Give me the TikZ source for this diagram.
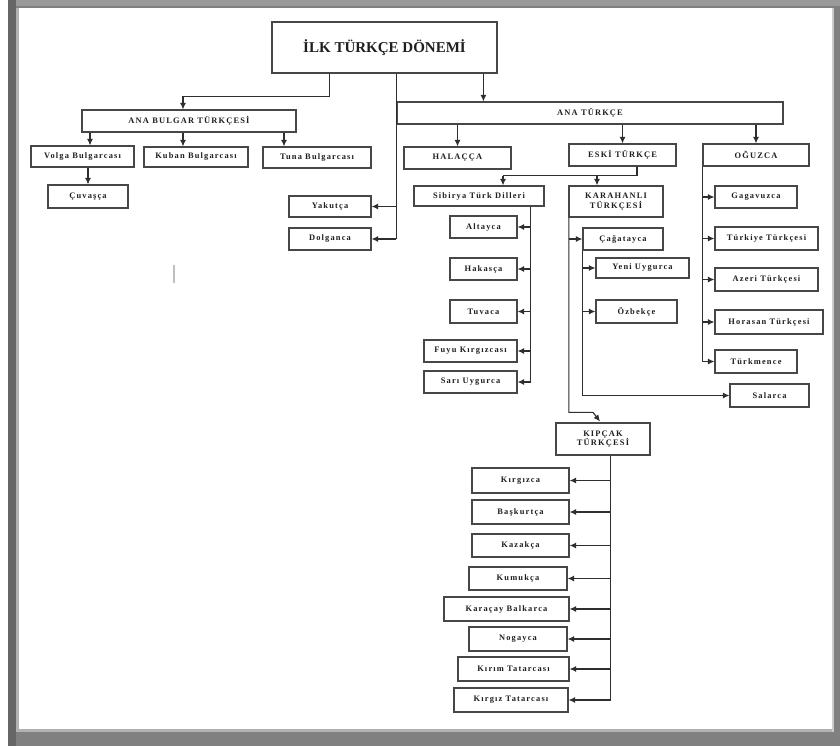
\documentclass[tikz,border=0pt]{standalone}
\usepackage{fontspec}
\setmainfont{Liberation Serif}
\newfontfamily\lblfont{Liberation Serif}[LetterSpace=14]
\usetikzlibrary{arrows.meta}
\begin{document}
\begin{tikzpicture}[x=1pt,y=-1pt,
  bx/.style={draw=black!72,line width=1.2pt,fill=white,inner sep=1pt,align=center,
    text=black!88,font=\lblfont\fontsize{8.4}{9.2}\selectfont\bfseries},
  ln/.style={draw=black!82,line width=1.1pt},
  arr/.style={ln,-{Latex[length=6.5pt,width=6pt]}}]
\useasboundingbox (0,0) rectangle (840,746);
% frame
\fill[black!50] (8,0) rectangle (840,746);
\fill[black!60] (8,0) rectangle (16,746);
\fill[black!30] (16,8) rectangle (19,732);
\fill[black!30] (16,729) rectangle (834,732);
\fill[black!40] (16,0) rectangle (840,6);
\fill[white] (19,8) rectangle (832,729);
\fill[black!20] (832,8) rectangle (834,732);
% stray mark
\draw[black!25,line width=1.5pt] (174,265) -- (174,283);
% nodes
\node[bx,minimum width=225pt,minimum height=51pt,font=\fontsize{15}{17}\selectfont\bfseries] (title) at (384.5,47.5) {İLK TÜRKÇE DÖNEMİ};
\node[bx,minimum width=214pt,minimum height=22pt] (anab) at (189,121) {ANA BULGAR TÜRKÇESİ};
\node[bx,minimum width=103pt,minimum height=21pt] (volga) at (82.5,156.5) {Volga Bulgarcası};
\node[bx,minimum width=104pt,minimum height=20pt] (kuban) at (196,157) {Kuban Bulgarcası};
\node[bx,minimum width=108pt,minimum height=21pt] (tuna) at (317,157.5) {Tuna Bulgarcası};
\node[bx,minimum width=80pt,minimum height=23pt] (cuvas) at (88,196.5) {Çuvaşça};
\node[bx,minimum width=386pt,minimum height=22pt] (anat) at (590,113) {ANA TÜRKÇE};
\node[bx,minimum width=82pt,minimum height=21pt] (yakut) at (330,206.5) {Yakutça};
\node[bx,minimum width=82pt,minimum height=22pt] (dolgan) at (330,239) {Dolganca};
\node[bx,minimum width=107pt,minimum height=22pt] (halac) at (457.5,158) {HALAÇÇA};
\node[bx,minimum width=107pt,minimum height=22pt] (eski) at (622.5,155) {ESKİ TÜRKÇE};
\node[bx,minimum width=106pt,minimum height=22pt] (oguz) at (756,155) {OĞUZCA};
\node[bx,minimum width=130pt,minimum height=20pt] (sibir) at (479,196) {Sibirya Türk Dilleri};
\node[bx,minimum width=94pt,minimum height=31pt] (karah) at (616,201.5) {KARAHANLI\\TÜRKÇESİ};
\node[bx,minimum width=67pt,minimum height=22pt] (altay) at (483.5,227) {Altayca};
\node[bx,minimum width=67pt,minimum height=22pt] (hakas) at (483.5,269) {Hakasça};
\node[bx,minimum width=67pt,minimum height=23pt] (tuva) at (483.5,311.5) {Tuvaca};
\node[bx,minimum width=93pt,minimum height=22pt] (fuyu) at (470.5,351) {Fuyu Kırgızcası};
\node[bx,minimum width=93pt,minimum height=22pt] (sari) at (470.5,382) {Sarı Uygurca};
\node[bx,minimum width=82pt,minimum height=22pt] (gagav) at (756,197) {Gagavuzca};
\node[bx,minimum width=103pt,minimum height=23pt] (turkiye) at (766.5,238.5) {Türkiye Türkçesi};
\node[bx,minimum width=103pt,minimum height=23pt] (azeri) at (766.5,279.5) {Azeri Türkçesi};
\node[bx,minimum width=108pt,minimum height=24pt] (horasan) at (769,322) {Horasan Türkçesi};
\node[bx,minimum width=82pt,minimum height=23pt] (turkmen) at (756,361.5) {Türkmence};
\node[bx,minimum width=80pt,minimum height=22pt] (cagatay) at (623,239) {Çağatayca};
\node[bx,minimum width=93pt,minimum height=20pt] (yeniuyg) at (642.5,268) {Yeni Uygurca};
\node[bx,minimum width=81pt,minimum height=23pt] (ozbek) at (636.5,311.5) {Özbekçe};
\node[bx,minimum width=79pt,minimum height=23pt] (salar) at (769.5,395.5) {Salarca};
\node[bx,minimum width=94pt,minimum height=32pt] (kipcak) at (603,439) {KIPÇAK\\TÜRKÇESİ};
\node[bx,minimum width=97pt,minimum height=25pt] (kirgiz) at (520.5,480.5) {Kırgızca};
\node[bx,minimum width=97pt,minimum height=24pt] (baskurt) at (520.5,512) {Başkurtça};
\node[bx,minimum width=97pt,minimum height=23pt] (kazak) at (520.5,545.5) {Kazakça};
\node[bx,minimum width=98pt,minimum height=23pt] (kumuk) at (518,578.5) {Kumukça};
\node[bx,minimum width=125pt,minimum height=24pt] (karacay) at (506.5,609) {Karaçay Balkarca};
\node[bx,minimum width=98pt,minimum height=24pt] (nogay) at (518,639) {Nogayca};
\node[bx,minimum width=111pt,minimum height=24pt] (kirim) at (513.5,669) {Kırım Tatarcası};
\node[bx,minimum width=114pt,minimum height=24pt] (kirgtat) at (511,700) {Kırgız Tatarcası};
% title -> ANA BULGAR
\draw[arr] ([xshift=58pt]title.south west) -- ++(0,23) -| ([xshift=-6pt]anab.north);
% ANA BULGAR -> children
\draw[arr] ([xshift=7.5pt]volga.north |- anab.south) -- ([xshift=7.5pt]volga.north);
\draw[arr] ([xshift=-13pt]kuban.north |- anab.south) -- ([xshift=-13pt]kuban.north);
\draw[arr] ([xshift=-33pt]tuna.north |- anab.south) -- ([xshift=-33pt]tuna.north);
\draw[arr] (cuvas.north |- volga.south) -- (cuvas.north);
% title -> ANA TÜRKÇE, Yakutça, Dolganca
\coordinate (ts) at ([xshift=125pt]title.south west);
\draw[ln] (ts) -- (ts |- dolgan.east);
\draw[arr] (ts |- yakut.east) -- (yakut.east);
\draw[arr] (ts |- dolgan.east) -- (dolgan.east);
\coordinate (t2) at ([xshift=212pt]title.south west);
\draw[arr] (t2) -- (t2 |- anat.north);
% ANA TÜRKÇE -> children
\draw[arr] (halac.north |- anat.south) -- (halac.north);
\draw[arr] (eski.north |- anat.south) -- (eski.north);
\draw[arr] (oguz.north |- anat.south) -- (oguz.north);
% ESKİ TÜRKÇE -> children
\draw[ln] ([xshift=14.5pt]eski.south) -- ++(0,9) coordinate (ej) -- ++(-134,0) coordinate (ek);
\draw[arr] (ek) -- (ek |- sibir.north);
\draw[arr] ([xshift=-19pt]karah.north |- ej) -- ([xshift=-19pt]karah.north);
% Sibirya spine
\coordinate (ss) at ([xshift=-14pt]sibir.south east);
\draw[ln] (ss) -- (ss |- sari.east);
\foreach \n in {altay,hakas,tuva,fuyu,sari}
  \draw[arr] (ss |- \n.east) -- (\n.east);
% OĞUZCA spine
\draw[ln] (oguz.south west) -- (oguz.south west |- turkmen.west);
\foreach \n in {gagav,turkiye,azeri,horasan,turkmen}
  \draw[arr] (oguz.south west |- \n.west) -- (\n.west);
% KARAHANLI spine
\coordinate (kb) at ([xshift=-10pt,yshift=10pt]kipcak.north);
\draw[arr] ([xshift=0.5pt]karah.south west) -- ([xshift=0.5pt]karah.south west |- kb) -- (kb) -- ([xshift=-3pt,yshift=1pt]kipcak.north);
\draw[arr] ([xshift=0.5pt]karah.south west |- cagatay.west) -- (cagatay.west);
% Çağatayca spine
\draw[ln] (cagatay.south west) -- (cagatay.south west |- salar.west);
\draw[arr] (cagatay.south west |- salar.west) -- (salar.west);
\foreach \n in {yeniuyg,ozbek}
  \draw[arr] (cagatay.south west |- \n.west) -- (\n.west);
% KIPÇAK spine
\coordinate (ks) at ([xshift=-40pt]kipcak.south east);
\draw[ln] (ks) -- (ks |- kirgtat.east);
\foreach \n in {kirgiz,baskurt,kazak,kumuk,karacay,nogay,kirim,kirgtat}
  \draw[arr] (ks |- \n.east) -- (\n.east);
\end{tikzpicture}
\end{document}
